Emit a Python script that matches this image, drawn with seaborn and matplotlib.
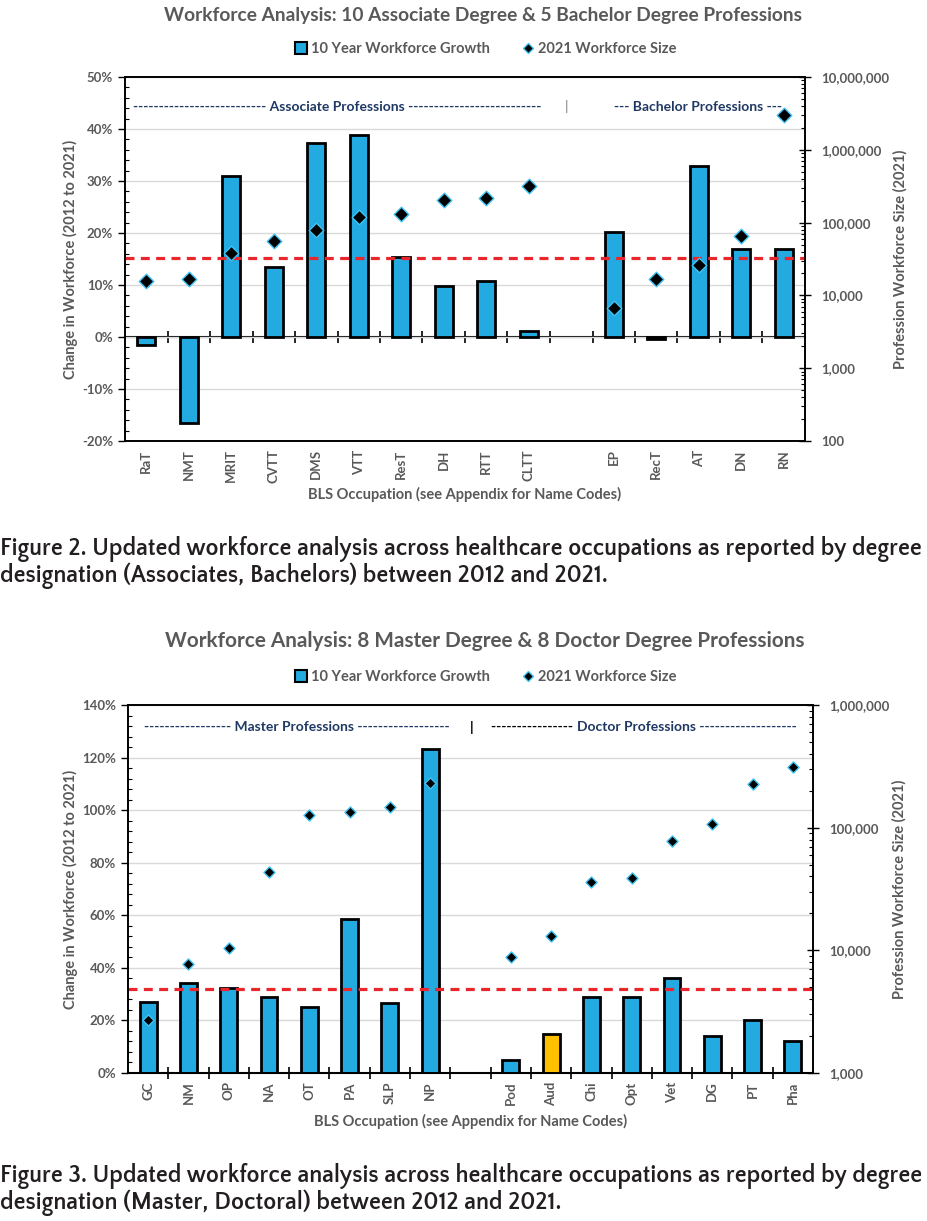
import numpy as np
import pandas as pd
import matplotlib
matplotlib.use("Agg")
import matplotlib.pyplot as plt
import matplotlib.ticker as mticker
from matplotlib import font_manager as fm
from matplotlib.patches import Patch
from matplotlib.lines import Line2D
import seaborn as sns

# Figure 2: associate + bachelor professions ("" = empty spacer slot)
codes_ab = ["RaT", "NMT", "MRIT", "CVTT", "DMS", "VTT", "ResT", "DH", "RTT", "CLTT",
            "", "EP", "RecT", "AT", "DN", "RN"]
growth_ab = [-1.5, -16.5, 31.0, 13.5, 37.4, 38.8, 15.4, 9.9, 10.8, 1.2,
             np.nan, 20.1, -0.3, 32.9, 17.0, 16.9]
size_ab = [15900, 16950, 38600, 56400, 79000, 118000, 131000, 206000, 216000, 321000,
           np.nan, 6780, 16950, 26100, 66100, 3006000]
avg_ab = 15.2

# Figure 3: master + doctor professions
codes_md = ["GC", "NM", "OP", "NA", "OT", "PA", "SLP", "NP",
            "", "Pod", "Aud", "Chi", "Opt", "Vet", "DG", "PT", "Pha"]
growth_md = [27.2, 34.1, 32.3, 29.1, 25.0, 58.7, 26.5, 123.1,
             np.nan, 4.8, 14.7, 29.1, 29.1, 36.0, 14.1, 20.0, 12.0]
size_md = [2680, 7730, 10370, 43500, 127000, 133000, 147000, 232000,
           np.nan, 8820, 13100, 35800, 39000, 77200, 108000, 225000, 312000]
avg_md = 32.0
focus_md = ["Aud"]

BLUE = "#22AAE1"
GOLD = "#FFC000"
RED = "#E8262B"
GRAY = "#595959"
NAVY = "#1F3864"
GLOW = "#3EC3F2"


def weight_of(f):
    return f.weight if isinstance(f.weight, int) else fm.weight_dict.get(f.weight, 400)


def bold_family(cands):
    for name in cands:
        for f in fm.fontManager.ttflist:
            if f.name == name and weight_of(f) >= 600 and f.style == "normal":
                return name
    return "DejaVu Sans"


sns.set_theme(style="white")
FAM = bold_family(["Lato", "Open Sans", "Noto Sans", "Roboto"])
plt.rcParams["font.family"] = [FAM, "DejaVu Sans"]
plt.rcParams["font.weight"] = "bold"

fig = plt.figure(figsize=(9.27, 12.21), dpi=100)
W, H = 927, 1221


def px_rect(left, top, right, bottom):
    return [left / W, 1 - bottom / H, (right - left) / W, (bottom - top) / H]


def fit_width(texts, target):
    # scale a group of texts so the first one spans `target` pixels
    r = fig.canvas.get_renderer()
    w = texts[0].get_window_extent(r).width
    k = target / w
    for t in texts:
        t.set_fontsize(t.get_fontsize() * k)


def caption_font(sample, size, target):
    # pick the installed bold sans whose width at `size` is closest to the target
    r = fig.canvas.get_renderer()
    probe = fig.text(0, 0, sample, fontsize=size)
    best, best_err = None, None
    bad = ("mono", "serif", "math", "symbol", "emoji", "cjk", "cmex", "cmsy", "stix")
    seen = set()
    for f in fm.fontManager.ttflist:
        low = f.name.lower()
        if any(b in low for b in bad) or f.fname in seen:
            continue
        if weight_of(f) < 700 or f.style != "normal":
            continue
        seen.add(f.fname)
        try:
            probe.set_fontproperties(fm.FontProperties(fname=f.fname, size=size))
            w = probe.get_window_extent(r).width
        except Exception:
            continue
        err = abs(w - target)
        if best_err is None or err < best_err:
            best, best_err = f.fname, err
    probe.remove()
    if best is None:
        return fm.FontProperties(family="DejaVu Sans", weight="bold")
    return fm.FontProperties(fname=best)


def panel(rect, codes, growth, size, avg, focus, ylim, ystep, yminor, y2lim, msize,
          title, title_xy, legend_xy, ylab_x, y2lab_x, xlab_y):
    df = pd.DataFrame({"code": codes, "growth": growth, "size": size})
    df["pos"] = np.arange(len(codes))
    df["kind"] = np.where(df["code"].isin(focus), "focus", "base")
    bars = df.dropna()

    ax = fig.add_axes(rect)
    ax.set_axisbelow(True)
    sns.barplot(data=bars, x="pos", y="growth", hue="kind", native_scale=True,
                palette={"base": BLUE, "focus": GOLD}, saturation=1, dodge=False,
                width=0.42, edgecolor="black", linewidth=2, legend=False, ax=ax, zorder=3)
    ax.axhline(avg, color=RED, lw=2.3, dashes=(2.8, 2.0), zorder=4)

    ax.set_ylim(*ylim)
    ax.set_xlim(-0.5, len(codes) - 0.5)
    ax.yaxis.set_major_locator(mticker.MultipleLocator(ystep))
    ax.yaxis.set_minor_locator(mticker.MultipleLocator(yminor))
    ax.yaxis.set_major_formatter(mticker.FuncFormatter(lambda v, p: f"{v:.0f}%"))
    ax.yaxis.grid(True, color="#D9D9D9", lw=1)
    ax.tick_params(axis="y", which="major", left=True, direction="out", length=5,
                   width=1, color="black", labelsize=9.5, labelcolor=GRAY)
    ax.tick_params(axis="y", which="minor", left=True, direction="in", length=3,
                   width=0.8, color="black")
    ax.set_xticks(df["pos"], labels=df["code"], rotation=90, fontweight="bold")
    ax.tick_params(axis="x", length=0, labelsize=9.5, labelcolor=GRAY, pad=6)
    for lab in ax.get_yticklabels():
        lab.set_fontweight("bold")
    for s in ax.spines.values():
        s.set_color("black")
        s.set_linewidth(1.2)

    # category axis crossing at 0 with boundary ticks
    zero_frac = (0 - ylim[0]) / (ylim[1] - ylim[0])
    sec = ax.secondary_xaxis(zero_frac)
    sec.set_xticks(df["pos"].iloc[:-1] + 0.5)
    sec.set_xticklabels([])
    sec.tick_params(direction="inout", length=8, width=1.2, color="black", bottom=True)
    sec.spines["bottom"].set_linewidth(1.5)
    sec.spines["bottom"].set_color("black")

    ax2 = ax.twinx()
    sns.scatterplot(data=df.dropna(), x="pos", y="size", marker="D", s=msize,
                    color="black", edgecolor=GLOW, linewidth=1.0, ax=ax2,
                    zorder=5, legend=False)
    ax2.set_yscale("log")
    ax2.set_ylim(*y2lim)
    ax2.set_xlim(-0.5, len(codes) - 0.5)
    ax2.yaxis.set_major_locator(mticker.LogLocator(base=10))
    ax2.yaxis.set_minor_locator(mticker.LogLocator(base=10, subs=np.arange(2, 10)))
    ax2.yaxis.set_minor_formatter(mticker.NullFormatter())
    ax2.yaxis.set_major_formatter(mticker.FuncFormatter(lambda v, p: f"{v:,.0f}"))
    ax2.tick_params(axis="y", which="major", right=True, direction="inout", length=8,
                    width=1, color="black", labelsize=9.5, labelcolor=GRAY, pad=8)
    ax2.tick_params(axis="y", which="minor", right=True, direction="in", length=3,
                    width=0.8, color="black")
    for s in ax2.spines.values():
        s.set_color("black")
        s.set_linewidth(1.2)

    ax.set_xlabel("BLS Occupation (see Appendix for Name Codes)", fontsize=10.5,
                  color=GRAY, fontweight="bold")
    ax.xaxis.set_label_coords(0.5, xlab_y)
    ax.set_ylabel("Change in Workforce (2012 to 2021)", fontsize=10.5,
                  color=GRAY, fontweight="bold")
    ax.yaxis.set_label_coords(ylab_x, 0.5)
    ax2.set_ylabel("Profession Workforce Size (2021)", fontsize=10.5,
                   color=GRAY, fontweight="bold")
    ax2.yaxis.set_label_coords(y2lab_x, 0.5)

    t = fig.text(title_xy[0] / W, 1 - title_xy[1] / H, title, ha="center", va="center",
                 fontsize=13, color=GRAY, fontweight="bold")
    fit_width([t], 640)
    handles = [Patch(facecolor=BLUE, edgecolor="black", linewidth=1.5),
               Line2D([], [], marker="D", ls="none", markersize=5,
                      markerfacecolor="black", markeredgecolor=GLOW)]
    fig.legend(handles, ["10 Year Workforce Growth", "2021 Workforce Size"],
               loc="center", bbox_to_anchor=(legend_xy[0] / W, 1 - legend_xy[1] / H),
               ncol=2, frameon=False, handlelength=0.8, handleheight=0.8,
               handletextpad=0.3, columnspacing=2.2,
               prop={"size": 10.5, "weight": "bold"}, labelcolor=GRAY)
    return ax


ax_top = panel(px_rect(125, 77, 805, 441), codes_ab, growth_ab, size_ab, avg_ab, [],
               (-20, 50), 10, 2, (100, 1e7), 55,
               "Workforce Analysis: 10 Associate Degree & 5 Bachelor Degree Professions",
               (483, 16), (486, 49), -0.069, 1.129, -0.126)
ax_top.text(0.312, 0.918, "-------------------------- Associate Professions --------------------------",
            transform=ax_top.transAxes, ha="center", va="center", fontsize=10,
            color=NAVY, fontweight="bold")
ax_top.text(0.65, 0.918, "|", transform=ax_top.transAxes, ha="center", va="center",
            fontsize=10, color="#7F7F7F", fontweight="normal")
ax_top.text(0.843, 0.918, "--- Bachelor Professions ---", transform=ax_top.transAxes,
            ha="center", va="center", fontsize=10, color=NAVY, fontweight="bold")

ax_bot = panel(px_rect(128, 705, 813, 1073), codes_md, growth_md, size_md, avg_md, focus_md,
               (0, 140), 20, 4, (1000, 1e6), 32,
               "Workforce Analysis: 8 Master Degree & 8 Doctor Degree Professions",
               (485, 641), (486, 677), -0.073, 1.116, -0.11)
ax_bot.text(0.247, 0.94, "----------------- Master Professions ------------------",
            transform=ax_bot.transAxes, ha="center", va="center", fontsize=10,
            color=NAVY, fontweight="bold")
ax_bot.text(0.502, 0.94, "|", transform=ax_bot.transAxes, ha="center", va="center",
            fontsize=10, color="black", fontweight="bold")
ax_bot.text(0.655, 0.94, "---------------- ", transform=ax_bot.transAxes, ha="right",
            va="center", fontsize=10, color="black", fontweight="bold")
ax_bot.text(0.655, 0.94, "Doctor Professions -------------------",
            transform=ax_bot.transAxes, ha="left", va="center", fontsize=10,
            color=NAVY, fontweight="bold")

captions = [
    ("Figure 2. Updated workforce analysis across healthcare occupations as reported by degree", 555),
    ("designation (Associates, Bachelors) between 2012 and 2021.", 582),
    ("Figure 3. Updated workforce analysis across healthcare occupations as reported by degree", 1182),
    ("designation (Master, Doctoral) between 2012 and 2021.", 1209),
]
cap_font = caption_font(captions[0][0], 17, 922)
cap_texts = []
for txt, yb in captions:
    cap_texts.append(fig.text(0.0, 1 - yb / H, txt, ha="left", va="baseline",
                              color="#231F20", fontproperties=cap_font))
for t in cap_texts:
    t.set_fontsize(17)
fit_width(cap_texts, 922)

fig.savefig("out.png", dpi=100)
